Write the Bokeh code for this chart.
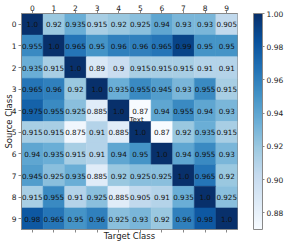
from bokeh.plotting import figure
from bokeh.models import (ColumnDataSource, LinearColorMapper, ColorBar, FixedTicker,
                          LinearAxis, Range1d, Label, PrintfTickFormatter)
from bokeh.palettes import Blues256
from bokeh.transform import transform
from bokeh.core.properties import value
from bokeh.embed import file_html
from bokeh.resources import INLINE

classes = [str(i) for i in range(10)]
row0 = [1.0, 0.92, 0.935, 0.915, 0.92, 0.925, 0.94, 0.93, 0.93, 0.905]
row1 = [0.955, 1.0, 0.965, 0.95, 0.96, 0.96, 0.965, 0.99, 0.95, 0.95]
row2 = [0.935, 0.915, 1.0, 0.89, 0.9, 0.915, 0.915, 0.915, 0.91, 0.91]
row3 = [0.965, 0.96, 0.92, 1.0, 0.935, 0.955, 0.945, 0.93, 0.955, 0.915]
row4 = [0.975, 0.955, 0.925, 0.885, 1.0, 0.87, 0.94, 0.955, 0.94, 0.93]
row5 = [0.915, 0.915, 0.875, 0.91, 0.885, 1.0, 0.87, 0.92, 0.935, 0.915]
row6 = [0.94, 0.935, 0.915, 0.91, 0.94, 0.95, 1.0, 0.94, 0.955, 0.93]
row7 = [0.945, 0.925, 0.935, 0.885, 0.92, 0.925, 0.925, 1.0, 0.965, 0.92]
row8 = [0.915, 0.955, 0.91, 0.925, 0.885, 0.905, 0.91, 0.935, 1.0, 0.925]
row9 = [0.98, 0.965, 0.95, 0.96, 0.925, 0.93, 0.92, 0.96, 0.98, 1.0]
rows = [row0, row1, row2, row3, row4, row5, row6, row7, row8, row9]
cbar_ticks = [0.88, 0.90, 0.92, 0.94, 0.96, 0.98, 1.00]
stray_text = "Text"
stray_pos = (4.5, 4.45)

xs, ys, vals, labels = [], [], [], []
for r, row in enumerate(rows):
    for c, v in enumerate(row):
        xs.append(c)
        ys.append(r)
        vals.append(v)
        labels.append(str(v))
src = ColumnDataSource(dict(x=xs, y=ys, v=vals, lab=labels))

vmin = min(vals)
vmax = max(vals)
mapper = LinearColorMapper(palette=list(reversed(Blues256)), low=vmin, high=vmax)

FONT = "DejaVu Sans"
SPINE = "#888888"

p = figure(frame_width=216, frame_height=216, output_backend="svg", toolbar_location=None,
           x_range=Range1d(-0.5, 9.5), y_range=Range1d(9.5, -0.5),
           x_axis_location=None, y_axis_location=None,
           min_border_left=21, min_border_top=13, min_border_bottom=12, min_border_right=49)
p.grid.visible = False
p.outline_line_color = SPINE
p.background_fill_color = "white"
p.border_fill_color = "white"

p.rect(x="x", y="y", width=1, height=1, source=src,
       fill_color=transform("v", mapper), line_color=transform("v", mapper), line_width=0.5)
p.text(x="x", y="y", text="lab", source=src, text_align="center", text_baseline="middle",
       text_font=value(FONT), text_font_size="7.2px", text_color="#111111")

p.add_layout(Label(x=stray_pos[0], y=stray_pos[1], text=stray_text, text_align="left",
                   text_baseline="middle", text_font=FONT, text_font_size="7px",
                   text_color="#222222"), "center")

ticker = FixedTicker(ticks=list(range(10)))
overrides = {i: classes[i] for i in range(10)}

def style(ax):
    ax.axis_line_color = SPINE
    ax.major_tick_line_color = SPINE
    ax.minor_tick_line_color = None
    ax.major_tick_out = 3
    ax.major_tick_in = 0
    ax.major_label_text_font = FONT
    ax.major_label_text_font_size = "7.5px"
    ax.major_label_text_color = "#222222"
    ax.axis_label_text_font = FONT
    ax.axis_label_text_font_size = "8.5px"
    ax.axis_label_text_font_style = "normal"
    ax.axis_label_text_color = "#222222"

top = LinearAxis(ticker=ticker, major_label_overrides=overrides)
style(top)
top.major_label_standoff = 0
p.add_layout(top, "above")

left = LinearAxis(ticker=ticker, major_label_overrides=overrides, axis_label="Source Class")
style(left)
left.major_label_standoff = 2
left.axis_label_standoff = -5
p.add_layout(left, "left")

# bottom: tick marks only (as minor ticks), plus the axis title
bottom = LinearAxis(ticker=FixedTicker(ticks=[], minor_ticks=list(range(10))),
                    axis_label="Target Class")
style(bottom)
bottom.major_tick_out = 0
bottom.minor_tick_line_color = SPINE
bottom.minor_tick_out = 3
bottom.minor_tick_in = 0
bottom.major_label_standoff = 0
bottom.axis_label_standoff = -2
p.add_layout(bottom, "below")

cb = ColorBar(color_mapper=mapper, ticker=FixedTicker(ticks=cbar_ticks),
              formatter=PrintfTickFormatter(format="%.2f"),
              location=(232, 0), width=9, height=216, padding=0, margin=0,
              label_standoff=2, major_tick_out=2, major_tick_in=0,
              major_tick_line_color=SPINE, bar_line_color=SPINE,
              border_line_color=None, background_fill_color=None,
              major_label_text_font=FONT, major_label_text_font_size="7.5px",
              major_label_text_color="#222222", minor_tick_line_color=None)
p.add_layout(cb, "center")

open("out.html", "w").write(file_html(p, INLINE))
